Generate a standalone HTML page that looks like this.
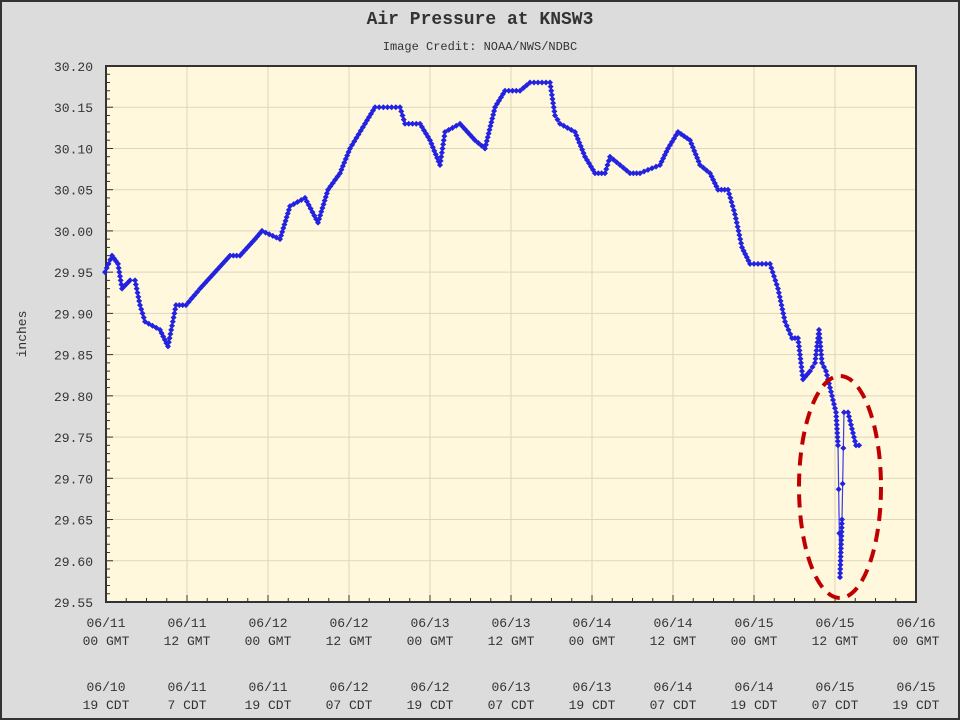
<!DOCTYPE html>
<html><head><meta charset="utf-8"><style>
body{margin:0;background:#dcdcdc}
svg{display:block}
text{font-family:"Liberation Mono","DejaVu Sans Mono",monospace;fill:#333}
</style></head><body>
<svg id="s" width="960" height="720" xmlns="http://www.w3.org/2000/svg">
<rect x="1" y="1" width="958" height="718" fill="#dcdcdc" stroke="#333" stroke-width="2"/>
<text x="480" y="24" font-size="18" font-weight="bold" text-anchor="middle">Air Pressure at KNSW3</text>
<text x="480" y="50" font-size="12" text-anchor="middle">Image Credit: NOAA/NWS/NDBC</text>
<rect x="106" y="66" width="810" height="536" fill="#fff8dc"/>
<g id="grid" stroke="#ddd6c0" stroke-width="1"></g>
<g id="ticks" stroke="#333" stroke-width="1"></g>
<rect x="106" y="66" width="810" height="536" fill="none" stroke="#333" stroke-width="2"/>
<g id="lab" font-size="13"></g>
<text transform="translate(26,334) rotate(-90)" font-size="13" text-anchor="middle">inches</text>
<g id="ser"></g>
<ellipse cx="840" cy="487" rx="41" ry="111" fill="none" stroke="#c00000" stroke-width="4" stroke-dasharray="13 8"/>
</svg>
<script>
var NS="http://www.w3.org/2000/svg";
function el(p,t,a,txt){var e=document.createElementNS(NS,t);for(var k in a)e.setAttribute(k,a[k]);if(txt)e.textContent=txt;document.getElementById(p).appendChild(e);return e;}
function Y(v){return 66+(30.20-v)/0.05*41.23;}
for(var i=0;i<=13;i++){var v=30.20-i*0.05,y=Y(v);
 if(i>0&&i<13)el("grid","line",{x1:106,x2:916,y1:y,y2:y});
 el("lab","text",{x:93,y:y+5,"text-anchor":"end"},v.toFixed(2));
 el("ticks","line",{x1:106,x2:113,y1:y,y2:y});
 if(i<13)for(var j=1;j<5;j++){var yy=y+j*41.23/5;el("ticks","line",{x1:106,x2:110,y1:yy,y2:yy});}
}
var xl=[["06/11","00 GMT","06/10","19 CDT"],["06/11","12 GMT","06/11","7 CDT"],["06/12","00 GMT","06/11","19 CDT"],["06/12","12 GMT","06/12","07 CDT"],["06/13","00 GMT","06/12","19 CDT"],["06/13","12 GMT","06/13","07 CDT"],["06/14","00 GMT","06/13","19 CDT"],["06/14","12 GMT","06/14","07 CDT"],["06/15","00 GMT","06/14","19 CDT"],["06/15","12 GMT","06/15","07 CDT"],["06/16","00 GMT","06/15","19 CDT"]];
for(var i=0;i<=10;i++){var x=106+i*81;
 if(i>0&&i<10)el("grid","line",{x1:x,x2:x,y1:66,y2:602});
 el("ticks","line",{x1:x,x2:x,y1:602,y2:595});
 if(i<10)for(var j=1;j<4;j++){var xx=x+j*81/4;el("ticks","line",{x1:xx,x2:xx,y1:602,y2:598});}
 var L=xl[i],ys=[627,645,691,709];
 for(var k=0;k<4;k++)el("lab","text",{x:x,y:ys[k],"text-anchor":"middle"},L[k]);
}
var d=[[105,29.95],[112,29.97],[118,29.96],[122,29.93],[130,29.94],[135,29.94],[140,29.91],[145,29.89],[160,29.88],[168,29.86],[176,29.91],[186,29.91],[200,29.93],[215,29.95],[230,29.97],[240,29.97],[255,29.99],[262,30.00],[280,29.99],[290,30.03],[305,30.04],[318,30.01],[328,30.05],[340,30.07],[350,30.10],[365,30.13],[375,30.15],[400,30.15],[405,30.13],[420,30.13],[430,30.11],[440,30.08],[445,30.12],[460,30.13],[475,30.11],[485,30.10],[495,30.15],[505,30.17],[520,30.17],[530,30.18],[550,30.18],[555,30.14],[560,30.13],[575,30.12],[585,30.09],[595,30.07],[605,30.07],[610,30.09],[620,30.08],[630,30.07],[640,30.07],[660,30.08],[668,30.10],[678,30.12],[690,30.11],[700,30.08],[710,30.07],[718,30.05],[728,30.05],[735,30.02],[742,29.98],[750,29.96],[770,29.96],[778,29.93],[785,29.89],[792,29.87],[798,29.87],[803,29.82],[810,29.83],[815,29.84],[819,29.88],[822,29.84],[826,29.83],[832,29.80],[836,29.78],[838,29.74],[840,29.58],[842,29.65],[844,29.78],[848,29.78],[852,29.76],[856,29.74],[862,29.74]];
var pts=d.map(function(p){return p[0]+","+Y(p[1]).toFixed(1)}).join(" ");
el("ser","polyline",{points:pts,fill:"none",stroke:"#3a3ae8","stroke-width":1.2});
for(var i=0;i<d.length-1;i++){var a=d[i],b=d[i+1],ya=Y(a[1]),yb=Y(b[1]);var len=Math.hypot(b[0]-a[0],yb-ya);var n=Math.max(1,Math.round(len/4));
 if(len>60)n=Math.max(1,Math.round(len/40));
 for(var j=0;j<n;j++){var t=j/n,x=a[0]+(b[0]-a[0])*t,y=ya+(yb-ya)*t;
  el("ser","path",{d:"M"+x+" "+(y-3)+"L"+(x+3)+" "+y+"L"+x+" "+(y+3)+"L"+(x-3)+" "+y+"Z",fill:"#2222e0"});}}
</script>
</body></html>
